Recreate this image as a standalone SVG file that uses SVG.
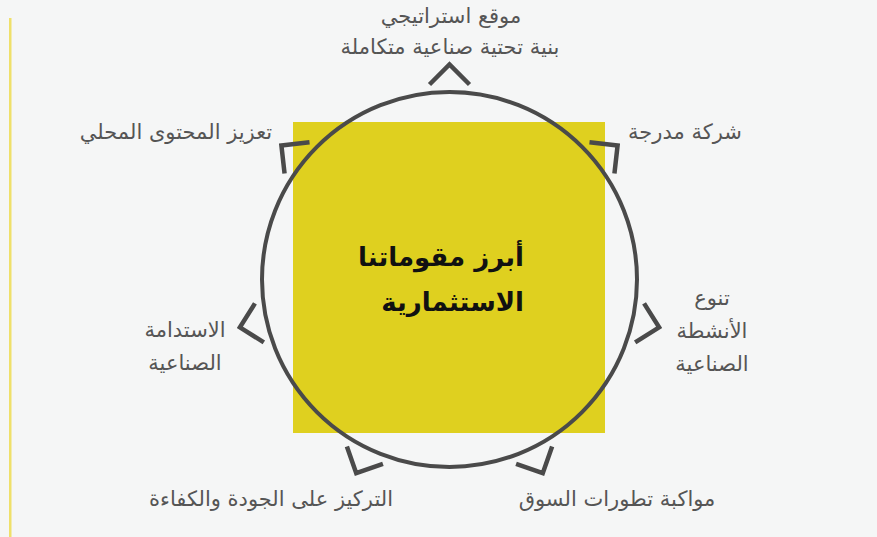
<svg xmlns="http://www.w3.org/2000/svg" width="877" height="537" viewBox="0 0 877 537">
<style>
.lbl{font-family:"DejaVu Sans","Noto Sans",sans-serif;font-size:21px;fill:#555555;text-anchor:middle}
.ttl{font-family:"DejaVu Sans","Noto Sans",sans-serif;font-size:26px;font-weight:bold;fill:#111111;text-anchor:end}
.chev{fill:none;stroke:#4a4a4a;stroke-width:4.5;stroke-linecap:butt;stroke-linejoin:miter}
</style>
<defs>
<path id="chev" class="chev" d="M429.5,84.5 L449.5,64.5 L469.5,84.5"/>
</defs>
<rect width="877" height="537" fill="#f5f6f6"/>
<rect x="9" y="18" width="2.5" height="519" fill="#efe06a"/>
<g id="center">
<rect x="293" y="122" width="312" height="311" fill="#dfd01f"/>
<circle cx="449.5" cy="279.5" r="187.5" fill="none" stroke="#4a4a4a" stroke-width="4"/>
<text class="ttl" x="524" y="266">أبرز مقوماتنا</text>
<text class="ttl" x="524" y="311">الاستثمارية</text>
</g>
<g id="connectors">
<use href="#chev"/>
<use href="#chev" transform="rotate(51.43 449.5 279.5)"/>
<use href="#chev" transform="rotate(102.86 449.5 279.5)"/>
<use href="#chev" transform="rotate(154.29 449.5 279.5)"/>
<use href="#chev" transform="rotate(205.71 449.5 279.5)"/>
<use href="#chev" transform="rotate(257.14 449.5 279.5)"/>
<use href="#chev" transform="rotate(308.57 449.5 279.5)"/>
</g>
<g id="n-top">
<text class="lbl" x="451" y="23">موقع استراتيجي</text>
<text class="lbl" x="450" y="54">بنية تحتية صناعية متكاملة</text>
</g>
<g id="n-topright"><text class="lbl" x="685" y="139">شركة مدرجة</text></g>
<g id="n-right">
<text class="lbl" x="712" y="305">تنوع</text>
<text class="lbl" x="712" y="338">الأنشطة</text>
<text class="lbl" x="712" y="371">الصناعية</text>
</g>
<g id="n-bottomright"><text class="lbl" x="617" y="506">مواكبة تطورات السوق</text></g>
<g id="n-bottomleft"><text class="lbl" x="271" y="506">التركيز على الجودة والكفاءة</text></g>
<g id="n-left">
<text class="lbl" x="185" y="337">الاستدامة</text>
<text class="lbl" x="185" y="370">الصناعية</text>
</g>
<g id="n-topleft"><text class="lbl" x="176" y="139">تعزيز المحتوى المحلي</text></g>
</svg>
